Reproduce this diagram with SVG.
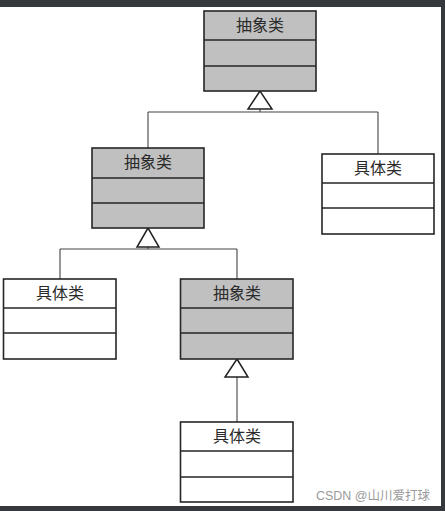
<svg xmlns="http://www.w3.org/2000/svg" width="445" height="511" viewBox="0 0 445 511">
<style>
.box{stroke:#262626;stroke-width:1.6}
.abs{fill:#c0c0c0}
.con{fill:#ffffff}
.div{stroke:#262626;stroke-width:1.6}
.lbl{font-family:"Noto Sans CJK SC","Liberation Sans",sans-serif;font-size:16px;font-weight:400;fill:#2a2a2a;text-anchor:middle}
.edge{stroke:#444;stroke-width:1.1;fill:none}
.tri{fill:#fff;stroke:#222;stroke-width:1.5}
</style>
<rect x="0" y="0" width="445" height="511" fill="#ffffff"/>
<rect x="0" y="0" width="445" height="7" fill="#35393d"/>
<rect x="441" y="0" width="4" height="511" fill="#35393d"/>
<rect x="0" y="506" width="445" height="5" fill="#35393d"/>
<g id="connectors">
<path class="edge" d="M260 109V112M148 112H378M148 112V148M378 112V154"/>
<path class="edge" d="M148 247V249M60 249H237M60 249V279M237 249V279"/>
<path class="edge" d="M237 377V422"/>
<polygon class="tri" points="260,91 248,109 272,109"/>
<polygon class="tri" points="148,228 137,247 159,247"/>
<polygon class="tri" points="237,359 225,377 248,377"/>
</g>
<g id="abstract1">
<rect class="box abs" x="204" y="11" width="112" height="80"/>
<line class="div" x1="204" y1="40" x2="316" y2="40"/>
<line class="div" x1="204" y1="66" x2="316" y2="66"/>
<text class="lbl" x="260" y="31">抽象类</text>
</g>
<g id="abstract2">
<rect class="box abs" x="92" y="148" width="112" height="80"/>
<line class="div" x1="92" y1="178" x2="204" y2="178"/>
<line class="div" x1="92" y1="203" x2="204" y2="203"/>
<text class="lbl" x="148" y="168">抽象类</text>
</g>
<g id="concrete1">
<rect class="box con" x="322" y="154" width="112" height="80"/>
<line class="div" x1="322" y1="183" x2="434" y2="183"/>
<line class="div" x1="322" y1="208" x2="434" y2="208"/>
<text class="lbl" x="378" y="174">具体类</text>
</g>
<g id="concrete2">
<rect class="box con" x="3.5" y="279" width="112.5" height="80"/>
<line class="div" x1="3.5" y1="308" x2="116" y2="308"/>
<line class="div" x1="3.5" y1="333" x2="116" y2="333"/>
<text class="lbl" x="60" y="299">具体类</text>
</g>
<g id="abstract3">
<rect class="box abs" x="180.5" y="279" width="112.5" height="80"/>
<line class="div" x1="180.5" y1="308" x2="293" y2="308"/>
<line class="div" x1="180.5" y1="333" x2="293" y2="333"/>
<text class="lbl" x="237" y="299">抽象类</text>
</g>
<g id="concrete3">
<rect class="box con" x="180.5" y="422" width="112.5" height="80"/>
<line class="div" x1="180.5" y1="451" x2="293" y2="451"/>
<line class="div" x1="180.5" y1="477" x2="293" y2="477"/>
<text class="lbl" x="237" y="442">具体类</text>
</g>
<text x="430" y="500" font-family="Liberation Sans, Noto Sans CJK SC, sans-serif" font-size="12.5" fill="#9a9a9a" text-anchor="end">CSDN @山川爱打球</text>
</svg>
